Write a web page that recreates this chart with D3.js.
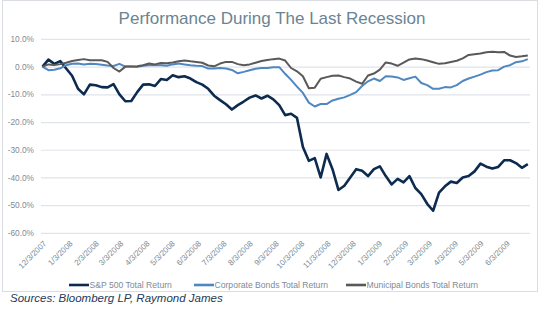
<!DOCTYPE html>
<html>
<head>
<meta charset="utf-8">
<script src="https://cdn.jsdelivr.net/npm/d3@7"></script>
<style>
  body { margin: 0; background: #fff; }
  svg { display: block; font-family: "Liberation Sans", Arial, sans-serif; }
</style>
</head>
<body>
<svg width="548" height="322"></svg>
<script>
// weekly observations
const weeks = [
  "2007-12-03","2007-12-10","2007-12-17","2007-12-24","2007-12-31",
  "2008-01-07","2008-01-14","2008-01-21","2008-01-28",
  "2008-02-04","2008-02-11","2008-02-18","2008-02-25",
  "2008-03-03","2008-03-10","2008-03-17","2008-03-24","2008-03-31",
  "2008-04-07","2008-04-14","2008-04-21","2008-04-28",
  "2008-05-05","2008-05-12","2008-05-19","2008-05-26",
  "2008-06-02","2008-06-09","2008-06-16","2008-06-23","2008-06-30",
  "2008-07-07","2008-07-14","2008-07-21","2008-07-28",
  "2008-08-04","2008-08-11","2008-08-18","2008-08-25",
  "2008-09-01","2008-09-08","2008-09-15","2008-09-22","2008-09-29",
  "2008-10-06","2008-10-13","2008-10-20","2008-10-27",
  "2008-11-03","2008-11-10","2008-11-17","2008-11-24",
  "2008-12-01","2008-12-08","2008-12-15","2008-12-22","2008-12-29",
  "2009-01-05","2009-01-12","2009-01-19","2009-01-26",
  "2009-02-02","2009-02-09","2009-02-16","2009-02-23",
  "2009-03-02","2009-03-09","2009-03-16","2009-03-23","2009-03-30",
  "2009-04-06","2009-04-13","2009-04-20","2009-04-27",
  "2009-05-04","2009-05-11","2009-05-18","2009-05-25",
  "2009-06-01","2009-06-08","2009-06-15","2009-06-22","2009-06-29"
];

const sp500 = [
  0, 2.5, 1.0, 2.0, -0.7,
  -3.3, -8.0, -10.0, -6.5,
  -6.7, -7.4, -7.5, -6.3,
  -10.0, -12.5, -12.4, -9.2, -6.5,
  -6.4, -7.0, -4.5, -4.8,
  -3.1, -3.8, -3.5, -4.3,
  -5.6, -6.5, -8.0, -10.5, -12.1,
  -13.6, -15.5, -13.9, -12.6,
  -11.2, -10.4, -11.5, -10.5,
  -11.8, -13.9, -17.5, -17.0, -18.5,
  -29.0, -34.0, -33.0, -40.0,
  -31.5, -37.0, -44.5, -43.0,
  -40.0, -37.0, -37.6, -39.5, -37.0,
  -36.0, -39.5, -42.5, -40.5,
  -41.8, -39.5, -43.8, -46.0,
  -49.5, -52.0, -45.5, -43.2, -41.5,
  -42.0, -40.0, -39.5, -37.8,
  -35.0, -36.1, -36.8, -36.2,
  -33.8, -33.8, -34.8, -36.5, -35.2
];

const corpBonds = [
  0, -1.3, -1.1, -0.6, 0.5,
  1.0, 1.1, 0.8, 1.0,
  0.9, 0.7, 0.4, 0.2,
  1.0, 0, 0, -0.1, 0.3,
  0.5, 0.5, 0.5, 0.3,
  0.8, 1.1, 0.8, 0.5,
  0.3, 0.2, -0.7, -0.7, -0.5,
  -0.7, -1.2, -2.4, -1.9,
  -1.3, -0.8, -0.5, -0.5,
  -0.2, -0.2, -2.6, -4.8, -7.2,
  -9.5, -13.0, -14.4, -13.5,
  -13.5, -12.2, -11.6, -11.1,
  -10.2, -9.2, -7.0, -5.3, -4.3,
  -5.2, -3.5, -3.6, -3.9,
  -4.8, -4.2, -3.6, -5.9,
  -6.7, -8.0, -8.0, -7.4, -7.5,
  -6.7, -5.2, -4.3, -3.6,
  -2.9, -2.0, -1.4, -1.3,
  0, 0.5, 1.6, 1.9, 2.7
];

const muniBonds = [
  0, 0.8, 0.6, 0.9, 1.4,
  2.0, 2.4, 2.7, 2.3,
  2.3, 2.3, 1.7, -0.5,
  -1.8, 0, 0, 0.1, 0.5,
  1.1, 0.8, 1.3, 1.2,
  1.5, 1.9, 2.2, 1.9,
  1.7, 1.4, 0.4, 0.1, 1.1,
  1.7, 1.7, 0.9, 0.5,
  0.8, 1.4, 2.0, 2.4,
  2.7, 2.9, 2.2, -0.5, -1.7,
  -3.5, -7.8, -7.6, -4.4,
  -3.8, -3.3, -3.2, -3.8,
  -4.3, -5.4, -6.2, -3.2, -2.5,
  -1.1, 1.5, 1.1, 0.3,
  1.4, 2.6, 2.9, 2.7,
  2.2, 1.6, 1.0, 1.2, 1.7,
  2.1, 3.0, 4.2, 4.5,
  4.7, 5.2, 5.4, 5.2,
  5.3, 4.0, 3.5, 3.7, 4.0
];

const tickLabels = [
  "12/3/2007","1/3/2008","2/3/2008","3/3/2008","4/3/2008","5/3/2008","6/3/2008",
  "7/3/2008","8/3/2008","9/3/2008","10/3/2008","11/3/2008","12/3/2008",
  "1/3/2009","2/3/2009","3/3/2009","4/3/2009","5/3/2009","6/3/2009"
];
const yTicks = [10, 0, -10, -20, -30, -40, -50, -60];

const seriesNames = ["S&P 500 Total Return", "Corporate Bonds Total Return", "Municipal Bonds Total Return"];
const seriesColors = ["#0d2b4e", "#4f87c1", "#595959"];
const seriesWidths = [2.6, 2, 2];

const svg = d3.select("svg");
const parseDay = d3.timeParse("%Y-%m-%d");
const parseTick = d3.timeParse("%m/%d/%Y");
const dates = weeks.map(parseDay);

const x = d3.scaleTime()
  .domain([parseDay("2007-12-03"), parseDay("2009-07-01")])
  .range([42.5, 529.5]);
const y = d3.scaleLinear()
  .domain([-60, 10])
  .range([232.9, 38.9]);

// outer frame
svg.append("rect")
  .attr("x", 2.5).attr("y", 0.5)
  .attr("width", 535).attr("height", 291)
  .attr("fill", "none").attr("stroke", "#d9dde1");

svg.append("text")
  .attr("x", 272).attr("y", 24)
  .attr("text-anchor", "middle")
  .attr("font-size", 17)
  .attr("fill", "#6a8493")
  .text("Performance During The Last Recession");

// y axis + gridlines
const yAxis = svg.append("g")
  .attr("transform", "translate(41,0)")
  .call(d3.axisLeft(y).tickValues(yTicks).tickSize(-489).tickPadding(7)
    .tickFormat(d => d.toFixed(1) + "%"));
yAxis.select(".domain").remove();
yAxis.selectAll(".tick line").attr("stroke", "#dfe5ea").attr("stroke-width", 1.2);
yAxis.selectAll(".tick text")
  .attr("font-size", 8.3).attr("fill", "#7d8b97")
  .attr("font-family", "Liberation Sans, Arial, sans-serif");

// x axis labels
const xAxis = svg.append("g")
  .attr("transform", "translate(0,236)")
  .call(d3.axisBottom(x).tickValues(tickLabels.map(parseTick)).tickSize(0)
    .tickFormat(d3.timeFormat("%-m/%-d/%Y")));
xAxis.select(".domain").remove();
xAxis.selectAll(".tick text")
  .attr("font-size", 8)
  .attr("fill", "#7d8b97")
  .attr("font-family", "Liberation Sans, Arial, sans-serif")
  .attr("text-anchor", "end")
  .attr("dy", 0)
  .attr("transform", "translate(4,8) rotate(-45)")
  .attr("y", 0);

// lines
const line = d3.line()
  .x((d, i) => x(dates[i]))
  .y(d => y(d));

[sp500, corpBonds, muniBonds].forEach((vals, k) => {
  svg.append("path")
    .datum(vals)
    .attr("fill", "none")
    .attr("stroke", seriesColors[k])
    .attr("stroke-width", seriesWidths[k])
    .attr("stroke-linejoin", "round")
    .attr("d", line);
});

// legend
const legendX = [69, 194, 346];
const legend = svg.append("g");
seriesNames.forEach((name, k) => {
  legend.append("line")
    .attr("x1", legendX[k]).attr("x2", legendX[k] + 20)
    .attr("y1", 285).attr("y2", 285)
    .attr("stroke", seriesColors[k]).attr("stroke-width", 2.6);
  legend.append("text")
    .attr("x", legendX[k] + 20.5).attr("y", 288)
    .attr("font-size", 8.6)
    .attr("fill", "#7d8b97")
    .text(name);
});

svg.append("text")
  .attr("x", 10).attr("y", 302)
  .attr("font-size", 11.5)
  .attr("font-style", "italic")
  .attr("fill", "#243a55")
  .text("Sources: Bloomberg LP, Raymond James");
</script>
</body>
</html>
